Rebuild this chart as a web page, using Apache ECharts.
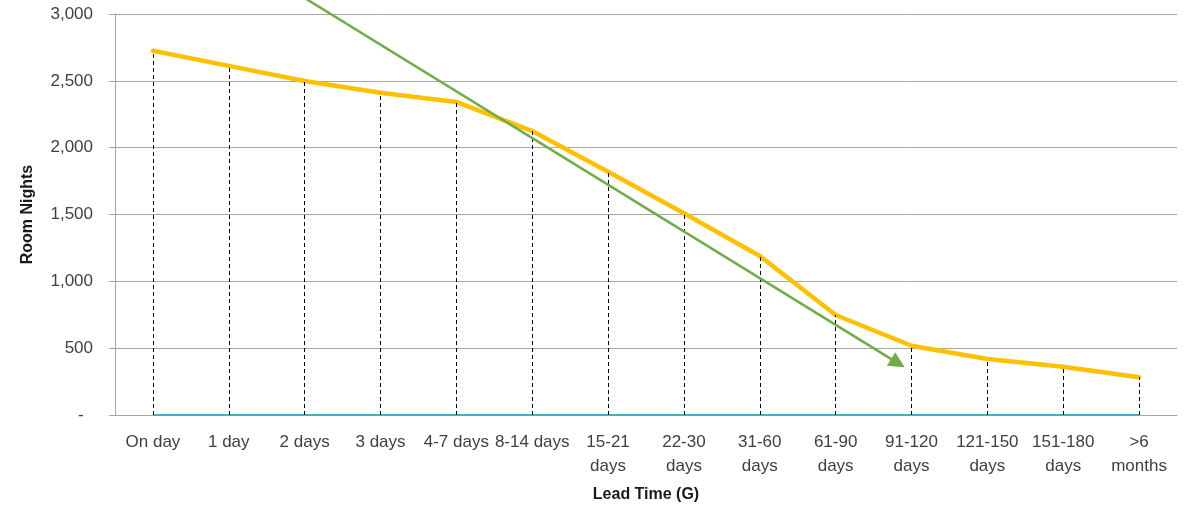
<!DOCTYPE html>
<html>
<head>
<meta charset="utf-8">
<script src="https://cdn.jsdelivr.net/npm/echarts@6/dist/echarts.min.js"></script>
<style>
html,body{margin:0;padding:0;background:#fff;}
#chart{width:1196px;height:510px;}
</style>
</head>
<body>
<div id="chart"></div>
<script>
// ---- data ----
var categories = ['On day','1 day','2 days','3 days','4-7 days','8-14 days','15-21\ndays','22-30\ndays','31-60\ndays','61-90\ndays','91-120\ndays','121-150\ndays','151-180\ndays','>6\nmonths'];
var roomNights = [2725, 2612, 2499, 2411, 2342, 2124, 1820, 1509, 1190, 748, 518, 419, 361, 282];
var baseline = [0,0,0,0,0,0,0,0,0,0,0,0,0,0];
var trendStart = [2, 3120];   // [category position, room nights]
var trendEnd = [9.82, 388];
var yTicks = [0, 500, 1000, 1500, 2000, 2500, 3000];

var FONT = '"Liberation Sans", Arial, sans-serif';
var chart = echarts.init(document.getElementById('chart'), null, {renderer:'canvas'});

var dropLines = roomNights.map(function(v, i){
  return [{coord:[categories[i], 0]}, {coord:[categories[i], v]}];
});

var option = {
  animation: false,
  backgroundColor: '#ffffff',
  grid: {left: 115, right: 19, top: 14, bottom: 95, containLabel: false},
  xAxis: [{
    type: 'category',
    data: categories,
    boundaryGap: true,
    name: 'Lead Time (G)',
    nameLocation: 'middle',
    nameGap: 72,
    nameTextStyle: {fontFamily: FONT, fontSize: 16, fontWeight: 'bold', color: '#1a1a1a'},
    axisLine: {show: true, onZero: false, lineStyle: {color: '#a6a6a6', width: 1}},
    axisTick: {show: false},
    axisLabel: {interval: 0, fontFamily: FONT, fontSize: 17, color: '#404040', lineHeight: 24, margin: 15},
    splitLine: {show: false}
  }, {
    type: 'value',
    min: -0.5,
    max: 13.5,
    show: false
  }],
  yAxis: {
    type: 'value',
    min: yTicks[0],
    max: yTicks[yTicks.length - 1],
    interval: 500,
    name: 'Room Nights',
    nameLocation: 'middle',
    nameGap: 79,
    nameRotate: 90,
    nameTextStyle: {fontFamily: FONT, fontSize: 16, fontWeight: 'bold', color: '#1a1a1a'},
    axisLine: {show: true, onZero: false, lineStyle: {color: '#a6a6a6', width: 1}},
    axisTick: {show: true, length: 6, lineStyle: {color: '#a6a6a6'}},
    axisLabel: {
      fontFamily: FONT, fontSize: 17, color: '#404040', margin: 22,
      formatter: function(v){ return v === 0 ? '-  ' : v.toLocaleString('en-US'); }
    },
    splitLine: {show: true, lineStyle: {color: '#a6a6a6', width: 1}}
  },
  series: [{
    name: 'baseline',
    type: 'line',
    data: baseline,
    symbol: 'none',
    z: 2,
    lineStyle: {color: '#4BACC6', width: 2},
    markLine: {
      silent: true,
      symbol: ['none','none'],
      label: {show: false},
      lineStyle: {color: '#000000', width: 1, type: [4, 3]},
      data: dropLines
    }
  }, {
    name: 'Room Nights',
    type: 'line',
    data: roomNights,
    symbol: 'none',
    z: 4,
    lineStyle: {color: '#FFC000', width: 4.5, cap: 'round', join: 'round'}
  }, {
    name: 'trend',
    type: 'lines',
    coordinateSystem: 'cartesian2d',
    xAxisIndex: 1,
    yAxisIndex: 0,
    clip: false,
    z: 5,
    symbol: ['none', 'triangle'],
    symbolSize: [15, 16],
    lineStyle: {color: '#70AD47', width: 2.5, opacity: 1},
    itemStyle: {color: '#70AD47'},
    data: [{coords: [trendStart, trendEnd]}]
  }]
};
chart.setOption(option);
</script>
</body>
</html>
